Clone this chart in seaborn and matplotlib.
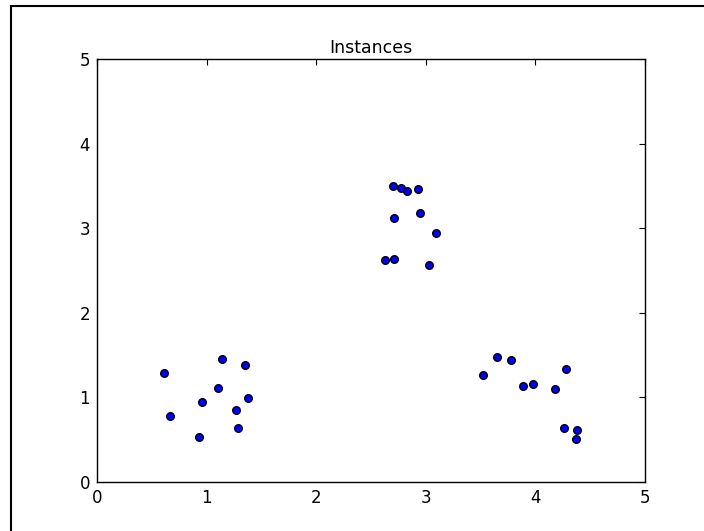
import numpy as np
import pandas as pd
import seaborn as sns
import matplotlib.pyplot as plt
from matplotlib.lines import Line2D

# instance coordinates, three clusters
x_vals = [0.61, 0.67, 0.93, 0.96, 1.10, 1.14, 1.35, 1.38, 1.27, 1.29,
          2.70, 2.77, 2.83, 2.93, 2.71, 2.95, 3.09, 2.63, 2.71, 3.03,
          3.52, 3.65, 3.78, 3.89, 3.98, 4.18, 4.28, 4.26, 4.38, 4.37]
y_vals = [1.29, 0.78, 0.53, 0.94, 1.11, 1.45, 1.38, 0.99, 0.85, 0.64,
          3.50, 3.48, 3.44, 3.46, 3.12, 3.18, 2.94, 2.62, 2.64, 2.56,
          1.27, 1.48, 1.44, 1.13, 1.16, 1.10, 1.33, 0.64, 0.62, 0.51]
ticks = [0, 1, 2, 3, 4, 5]

df = pd.DataFrame({"x": x_vals, "y": y_vals})

sns.set_style("white")
plt.rcParams['font.family'] = ['DejaVu Sans']

fig = plt.figure(figsize=(7.04, 5.31), dpi=100)
ax = fig.add_axes([97 / 704, 1 - 482 / 531, (645 - 97) / 704, (482 - 59) / 531])

sns.scatterplot(data=df, x="x", y="y", ax=ax, color="#0000ff",
                edgecolor="black", linewidth=1.0, s=30, zorder=3)

ax.set_xlim(0, 5)
ax.set_ylim(0, 5)
ax.set_xticks(ticks)
ax.set_yticks(ticks)
ax.set_xlabel("")
ax.set_ylabel("")
ax.set_title("Instances", fontsize=12.5, color="black", pad=4)
ax.tick_params(direction="in", length=4, width=0.8, top=True, right=True,
               labelsize=12, colors="black", pad=5)
for sp in ax.spines.values():
    sp.set_color("black")
    sp.set_linewidth(1.0)

# outer frame seen at top-left of the screenshot
fig.add_artist(Line2D([11 / 704, 11 / 704], [0, 1 - 6 / 531],
                      transform=fig.transFigure, color="black", lw=1.5))
fig.add_artist(Line2D([11 / 704, 1], [1 - 6 / 531, 1 - 6 / 531],
                      transform=fig.transFigure, color="black", lw=1.5))

fig.savefig("out.png", dpi=100)
